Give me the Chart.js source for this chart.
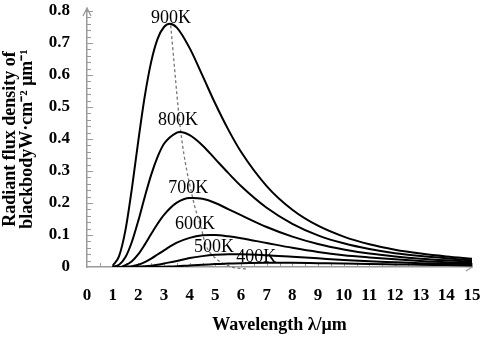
<!DOCTYPE html>
<html>
<head>
<meta charset="utf-8">
<script src="https://cdn.jsdelivr.net/npm/chart.js@4/dist/chart.umd.min.js"></script>
<style>
html,body{margin:0;padding:0;background:#fff;}
#wrap{width:484px;height:338px;position:relative;}
</style>
</head>
<body>
<div id="wrap"><canvas id="c" width="484" height="338"></canvas></div>
<script>
// ---- data ----
const temperatures = ['900K', '800K', '700K', '600K', '500K', '400K'];
const wavelength = [1, 1.25, 1.5, 1.75, 2, 2.25, 2.5, 2.75, 3, 3.5, 4, 4.5, 5, 5.5, 6, 7, 8, 9, 10, 11, 12, 13, 14, 15];
const flux900 = [0.004, 0.034, 0.116, 0.246, 0.395, 0.533, 0.641, 0.713, 0.750, 0.748, 0.684, 0.598, 0.510, 0.430, 0.360, 0.253, 0.179, 0.129, 0.095, 0.071, 0.054, 0.042, 0.033, 0.026];
const flux800 = [0.001, 0.007, 0.031, 0.079, 0.145, 0.219, 0.288, 0.344, 0.385, 0.420, 0.412, 0.380, 0.337, 0.294, 0.253, 0.185, 0.135, 0.099, 0.074, 0.056, 0.043, 0.034, 0.027, 0.021];
const flux700 = [0, 0, 0.006, 0.018, 0.040, 0.070, 0.103, 0.135, 0.163, 0.201, 0.216, 0.213, 0.200, 0.181, 0.162, 0.125, 0.095, 0.072, 0.055, 0.042, 0.033, 0.026, 0.021, 0.017];
const flux600 = [0, 0, 0.001, 0.0025, 0.007, 0.015, 0.026, 0.039, 0.052, 0.076, 0.091, 0.099, 0.100, 0.096, 0.090, 0.075, 0.060, 0.047, 0.037, 0.030, 0.024, 0.019, 0.015, 0.013];
const flux500 = [0, 0, 0, 0, 0.001, 0.002, 0.004, 0.007, 0.011, 0.019, 0.028, 0.034, 0.038, 0.040, 0.040, 0.037, 0.032, 0.027, 0.022, 0.018, 0.015, 0.012, 0.010, 0.009];
const flux400 = [0, 0, 0, 0, 0, 0, 0, 0.0005, 0.001, 0.002, 0.005, 0.007, 0.009, 0.011, 0.012, 0.013, 0.013, 0.012, 0.011, 0.009, 0.008, 0.007, 0.006, 0.005];
const peakWavelength = [3.22, 3.62, 4.14, 4.83, 5.8, 7.24];
const peakFlux = [0.760, 0.422, 0.216, 0.100, 0.040, 0.013];
// dashed locus of the peaks, as drawn
const locusWavelength = [3.26, 3.66, 4.12, 4.47, 4.62, 5.0, 5.64, 6.2];
const locusFlux = [0.755, 0.418, 0.215, 0.115, 0.070, 0.028, 0.0, -0.006];
// label anchor points (data coordinates)
const labelWavelength = [3.27, 3.55, 3.94, 4.21, 4.95, 6.59];
const labelFlux = [0.778, 0.459, 0.247, 0.134, 0.0625, 0.031];
const xTicks = [0, 15, 1];
const yTicks = [0, 0.8, 0.1];

const fluxSeries = [flux900, flux800, flux700, flux600, flux500, flux400];
const SERIF = "'Liberation Serif', 'Times New Roman', serif";
const AXIS_GRAY = '#9a9a9a';

function buildPoints(ys, i) {
  const pts = wavelength.map((x, k) => ({x: x, y: ys[k]}));
  pts.push({x: peakWavelength[i], y: peakFlux[i]});
  pts.sort((a, b) => a.x - b.x);
  return pts;
}

const datasets = fluxSeries.map((ys, i) => ({
  label: temperatures[i],
  data: buildPoints(ys, i),
  borderColor: '#000',
  borderWidth: 2,
  pointRadius: 0,
  fill: false,
  cubicInterpolationMode: 'monotone'
}));
datasets.push({
  label: 'peak locus',
  data: locusWavelength.map((x, k) => ({x: x, y: locusFlux[k]})),
  borderColor: '#777',
  borderWidth: 1.3,
  borderDash: [3, 2.5],
  pointRadius: 0,
  fill: false,
  clip: false,
  cubicInterpolationMode: 'monotone'
});

const decorations = {
  id: 'decorations',
  beforeDatasetsDraw(chart) {
    const ctx = chart.ctx, xs = chart.scales.x, ys = chart.scales.y;
    const x0 = xs.getPixelForValue(0), y0 = ys.getPixelForValue(0);
    ctx.save();
    ctx.strokeStyle = AXIS_GRAY;
    ctx.lineWidth = 1;
    for (let v = 0.02; v <= 0.8001; v += 0.02) {
      const py = Math.round(ys.getPixelForValue(v)) + 0.5;
      const major = Math.abs(v * 10 - Math.round(v * 10)) < 1e-6;
      ctx.beginPath();
      ctx.moveTo(x0, py);
      ctx.lineTo(x0 + (major ? 6 : 4), py);
      ctx.stroke();
    }
    for (let v = 0.5; v <= 15.001; v += 0.5) {
      const px = Math.round(xs.getPixelForValue(v)) + 0.5;
      ctx.beginPath();
      ctx.moveTo(px, y0);
      ctx.lineTo(px, y0 - 4);
      ctx.stroke();
    }
    const top = ys.getPixelForValue(0.8);
    ctx.lineWidth = 1.3;
    ctx.beginPath();
    ctx.moveTo(x0, top);
    ctx.lineTo(x0, top - 3);
    ctx.moveTo(x0 - 4, top + 5);
    ctx.lineTo(x0, top - 3);
    ctx.lineTo(x0 + 4, top + 5);
    ctx.stroke();
    const right = xs.getPixelForValue(15);
    ctx.beginPath();
    ctx.moveTo(right - 6, y0 - 4);
    ctx.lineTo(right, y0);
    ctx.lineTo(right - 6, y0 + 4);
    ctx.stroke();
    ctx.restore();
  },
  afterDatasetsDraw(chart) {
    const ctx = chart.ctx, xs = chart.scales.x, ys = chart.scales.y;
    ctx.save();
    ctx.fillStyle = '#000';
    ctx.font = '18px ' + SERIF;
    ctx.textAlign = 'center';
    ctx.textBaseline = 'middle';
    temperatures.forEach((t, i) => {
      ctx.fillText(t, xs.getPixelForValue(labelWavelength[i]), ys.getPixelForValue(labelFlux[i]));
    });
    ctx.restore();
  }
};

new Chart(document.getElementById('c'), {
  type: 'line',
  data: {datasets: datasets},
  options: {
    responsive: false,
    animation: false,
    layout: {padding: {top: 11, right: 12, left: 0, bottom: 0}},
    plugins: {legend: {display: false}, tooltip: {enabled: false}},
    scales: {
      x: {
        type: 'linear',
        min: xTicks[0], max: xTicks[1],
        grid: {display: false, drawTicks: false},
        border: {display: true, color: AXIS_GRAY, width: 1.5},
        ticks: {stepSize: xTicks[2], color: '#000', padding: 18, maxRotation: 0, autoSkip: false,
                font: {family: SERIF, size: 17, weight: 'bold'}},
        title: {display: true, text: 'Wavelength λ/μm', color: '#000',
                font: {family: SERIF, size: 18, weight: 'bold', lineHeight: 1},
                padding: {top: 0, bottom: 4}},
        afterFit(s) { s.height = 71; s.paddingLeft = 0; s.paddingRight = 0; }
      },
      y: {
        min: yTicks[0], max: yTicks[1],
        grid: {display: false, drawTicks: false},
        border: {display: true, color: AXIS_GRAY, width: 1.5},
        ticks: {stepSize: yTicks[2], color: '#000', padding: 17,
                font: {family: SERIF, size: 17, weight: 'bold'},
                callback: v => (Math.abs(v) < 1e-9 ? '0' : Number(v).toFixed(1))},
        title: {display: true, text: ['Radiant flux density of', 'blackbodyW·cm⁻² μm⁻¹'], color: '#000',
                font: {family: SERIF, size: 18, weight: 'bold', lineHeight: 0.95},
                padding: {top: 1.5, bottom: 0}},
        afterFit(s) { s.width = 87; s.paddingTop = 0; s.paddingBottom = 0; }
      }
    }
  },
  plugins: [decorations]
});
</script>
</body>
</html>
